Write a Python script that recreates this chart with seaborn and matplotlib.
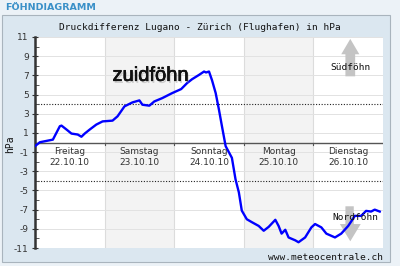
import numpy as np
import pandas as pd
import matplotlib
matplotlib.use("Agg")
import matplotlib.pyplot as plt
import matplotlib.patheffects as pe
from matplotlib.patches import Rectangle, Polygon
import seaborn as sns

# ---- data ----
days = [0, 0.071, 0.257, 0.357, 0.381, 0.453, 0.524, 0.614, 0.667, 0.714, 0.786, 0.881, 0.971,
        1.114, 1.186, 1.286, 1.4, 1.5, 1.543, 1.643, 1.714, 1.829, 1.971,
        2.1, 2.186, 2.257, 2.357, 2.429, 2.457, 2.5, 2.543, 2.596, 2.643, 2.686, 2.739, 2.829,
        2.881, 2.929, 2.971, 3.043, 3.114, 3.214, 3.286, 3.357, 3.453, 3.5, 3.543, 3.596,
        3.643, 3.739, 3.786, 3.881, 3.971, 4.024, 4.114, 4.186, 4.31, 4.4, 4.5, 4.596,
        4.686, 4.757, 4.829, 4.881, 4.953]
hpa = [-0.38, 0.03, 0.3, 1.7, 1.76, 1.35, 0.93, 0.83, 0.6, 0.93, 1.35, 1.87, 2.2,
       2.28, 2.73, 3.77, 4.18, 4.39, 3.94, 3.84, 4.28, 4.63, 5.15,
       5.57, 6.2, 6.6, 7.05, 7.4, 7.3, 7.4, 6.5, 5.15, 3.42, 1.7, -0.38, -1.6,
       -3.84, -5.2, -7.1, -8.0, -8.3, -8.7, -9.2, -8.8, -8.06, -8.7, -9.5, -9.1,
       -9.9, -10.2, -10.4, -9.9, -8.85, -8.5, -8.85, -9.5, -9.9, -9.5, -8.7, -7.65,
       -7.65, -7.13, -7.2, -7.0, -7.2]
day_names = ["Freitag", "Samstag", "Sonntag", "Montag", "Dienstag"]
day_dates = ["22.10.10", "23.10.10", "24.10.10", "25.10.10", "26.10.10"]
y_ticks = [11, 9, 7, 5, 3, 1, -1, -3, -5, -7, -9, -11]
thresholds = [4, -4]

df = pd.DataFrame({"day": days, "hpa": hpa})

mono = "DejaVu Sans Mono"
W, H = 400, 266
fig = plt.figure(figsize=(4, 2.66), dpi=100)
fig.patch.set_facecolor("#ecf2f7")

# inner box
fig.patches.append(Rectangle((2 / W, 1 - 262 / H), 388 / W, 247 / H, transform=fig.transFigure,
                             facecolor="#dbe7f0", edgecolor="#a9b4bd", linewidth=0.8, zorder=-10))
fig.text(5 / W, 1 - 7 / H, "FÖHNDIAGRAMM", color="#3a90c8", fontsize=6.8, fontweight="bold",
         va="center", ha="left", family="DejaVu Sans")
fig.text(200 / W, 1 - 27 / H, "Druckdifferenz Lugano - Zürich (Flughafen) in hPa", family=mono,
         fontsize=6.8, ha="center", va="center", color="#111111")
fig.text(10 / W, 1 - 144 / H, "hPa", family=mono, fontsize=7, rotation=90, ha="center", va="center",
         color="#111111")
fig.text(383 / W, 1 - 257 / H, "www.meteocentrale.ch", family=mono, fontsize=6.8, ha="right",
         va="center", color="#111111")

ax = fig.add_axes([35 / W, 1 - 248 / H, 348 / W, 211 / H], zorder=1)
ax.set_facecolor("white")
ax.set_xlim(0, 5)
ax.set_ylim(-11, 11)

# shading for alternate days
for i in range(len(day_names)):
    if i % 2 == 1:
        ax.axvspan(i, i + 1, color="#f3f3f3", zorder=0, lw=0)
for i in range(1, len(day_names)):
    ax.axvline(i, color="#dcdcdc", lw=0.8, zorder=0.5)
for v in y_ticks:
    ax.axhline(v, color="#e2e2e2", lw=0.7, zorder=0.6)
for t in thresholds:
    ax.axhline(t, color="#222222", lw=0.8, ls=(0, (1, 1.5)), zorder=1)

# arrows
ax.add_patch(Polygon([[4.46, 6.9], [4.46, 9.2], [4.40, 9.2], [4.53, 10.8], [4.66, 9.2], [4.60, 9.2],
                      [4.60, 6.9]], closed=True, facecolor="#c4c4c4", edgecolor="none", zorder=1.5))
ax.add_patch(Polygon([[4.46, -6.65], [4.46, -8.5], [4.38, -8.5], [4.53, -10.3], [4.68, -8.5],
                      [4.58, -8.5], [4.58, -6.65]], closed=True, facecolor="#c4c4c4",
                     edgecolor="none", zorder=1.5))

sns.lineplot(data=df, x="day", y="hpa", ax=ax, color="#0000ff", lw=1.7, zorder=3)

ax.text(4.53, 7.85, "Südföhn", family=mono, fontsize=6.8, ha="center", va="center",
        color="#111111", zorder=4)
ax.text(4.6, -7.8, "Nordföhn", family=mono, fontsize=6.8, ha="center", va="center",
        color="#111111", zorder=4)
t = ax.text(1.66, 7.0, "zuidföhn", family="Liberation Sans", fontsize=14.5, ha="center",
            va="center", color="#111111", zorder=5)
t.set_path_effects([pe.withSimplePatchShadow(offset=(1.0, -1.5), shadow_rgbFace="#888888", alpha=0.35),
                    pe.withStroke(linewidth=0.4, foreground="#111111")])

# day labels
for i, (n, d) in enumerate(zip(day_names, day_dates)):
    ax.text(i + 0.5, -0.95, n, ha="center", va="center", fontsize=6.5, color="#333333",
            family="DejaVu Sans", zorder=4)
    ax.text(i + 0.5, -2.1, d, ha="center", va="center", fontsize=6.5, color="#333333",
            family="DejaVu Sans", zorder=4)

# axes styling
for s in ["top", "right", "bottom"]:
    ax.spines[s].set_visible(False)
ax.spines["left"].set_color("#333333")
ax.spines["left"].set_linewidth(1.8)
ax.axhline(0, color="#555555", lw=1.0, zorder=2)
for i in range(1, len(day_names)):
    ax.plot([i, i], [0, -0.3], color="#555555", lw=0.8, zorder=2)

ax.set_yticks(y_ticks)
ax.set_yticklabels([str(v) for v in y_ticks], fontsize=6.5, color="#333333", family="DejaVu Sans")
ax.set_yticks([10, 8, 6, 4, 2, 0, -2, -4, -6, -8, -10], minor=True)
ax.tick_params(axis="y", which="major", direction="inout", length=5, width=0.8, color="#333333", pad=2)
ax.tick_params(axis="y", which="minor", direction="in", length=3, width=0.7, color="#555555")
ax.set_xticks([])
ax.set_xlabel("")
ax.set_ylabel("")
if ax.get_legend():
    ax.get_legend().remove()

fig.savefig("out.png", dpi=100, facecolor=fig.get_facecolor())
